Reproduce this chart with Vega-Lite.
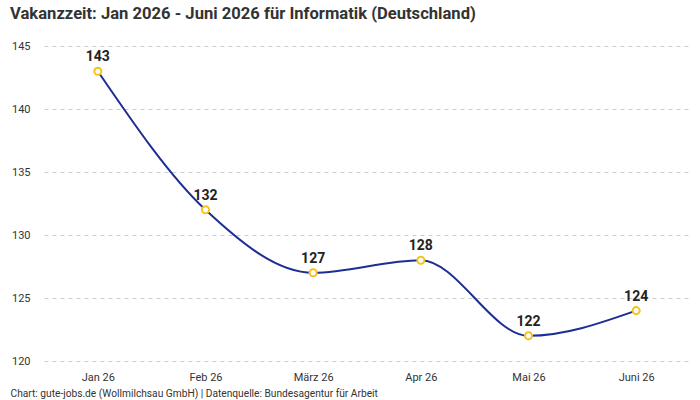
{
  "$schema": "https://vega.github.io/schema/vega-lite/v6.json",
  "width": 646,
  "height": 315,
  "autosize": {"type": "none"},
  "padding": {"left": 44, "top": 46, "right": 10, "bottom": 39},
  "background": "white",
  "config": {
    "view": {"stroke": null},
    "font": "Roboto"
  },
  "title": {
    "text": "Vakanzzeit: Jan 2026 - Juni 2026 für Informatik (Deutschland)",
    "anchor": "start",
    "frame": "group",
    "dx": -34,
    "offset": 17,
    "fontSize": 16.6,
    "fontWeight": "bold",
    "color": "#333333",
    "font": "Roboto"
  },
  "data": {
    "values": [
      {"monat": "Jan 26", "tage": 143},
      {"monat": "Feb 26", "tage": 132},
      {"monat": "März 26", "tage": 127},
      {"monat": "Apr 26", "tage": 128},
      {"monat": "Mai 26", "tage": 122},
      {"monat": "Juni 26", "tage": 124}
    ]
  },
  "encoding": {
    "x": {
      "field": "monat",
      "type": "ordinal",
      "sort": null,
      "scale": {"type": "point", "padding": 0.5},
      "axis": {
        "title": "Chart: gute-jobs.de (Wollmilchsau GmbH) | Datenquelle: Bundesagentur für Arbeit",
        "titleAnchor": "start",
        "titleAlign": "left",
        "titleBaseline": "top",
        "titleX": -34,
        "titleY": 27,
        "titleFontSize": 10.2,
        "titleFontWeight": "normal",
        "titleColor": "#333333",
        "labelAngle": 0,
        "labelFontSize": 11,
        "labelColor": "#333333",
        "labelPadding": 10,
        "domain": false,
        "ticks": false,
        "grid": false
      }
    },
    "y": {
      "field": "tage",
      "type": "quantitative",
      "scale": {"domain": [120, 145], "nice": false, "zero": false},
      "axis": {
        "title": null,
        "values": [120, 125, 130, 135, 140, 145],
        "labelFontSize": 11,
        "labelColor": "#333333",
        "labelPadding": 14,
        "domain": false,
        "ticks": false,
        "grid": true,
        "gridColor": "#cccccc",
        "gridDash": [4, 4],
        "gridWidth": 1
      }
    }
  },
  "layer": [
    {
      "mark": {"type": "line", "interpolate": "monotone", "color": "#1c2e94", "strokeWidth": 2}
    },
    {
      "mark": {"type": "point", "filled": true, "fill": "white", "stroke": "#f5c21b", "strokeWidth": 2, "size": 50, "opacity": 1}
    },
    {
      "mark": {"type": "text", "dy": -7, "baseline": "bottom", "fontSize": 14, "fontWeight": "bold", "color": "#222222"},
      "encoding": {"text": {"field": "tage", "type": "quantitative"}}
    }
  ]
}
